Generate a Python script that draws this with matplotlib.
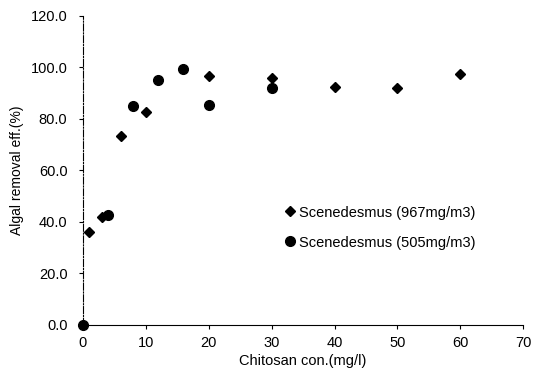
import matplotlib.pyplot as plt

# data
x_967 = [1, 3, 6, 10, 20, 30, 40, 50, 60]
y_967 = [36.0, 42.0, 73.5, 82.5, 96.5, 96.0, 92.5, 92.0, 97.5]
x_505 = [0, 4, 8, 12, 16, 20, 30]
y_505 = [0.0, 42.5, 85.0, 95.0, 99.5, 85.5, 92.0]
xticks = [0, 10, 20, 30, 40, 50, 60, 70]
yticks = [0, 20, 40, 60, 80, 100, 120]

plt.rcParams['font.family'] = ['Liberation Sans', 'DejaVu Sans']

fig = plt.figure(figsize=(5.34, 3.70), dpi=100)
ax = fig.add_axes([0.155, 0.122, 0.825, 0.835])

ax.plot(x_967, y_967, linestyle='none', marker='D', markersize=5, color='black',
        label='Scenedesmus (967mg/m3)', clip_on=False)
ax.plot(x_505, y_505, linestyle='none', marker='o', markersize=7, color='black',
        label='Scenedesmus (505mg/m3)', clip_on=False)

ax.set_xlim(0, 70)
ax.set_ylim(0, 120)
ax.set_xticks(xticks)
ax.set_yticks(yticks)
ax.set_yticklabels(['%.1f' % v for v in yticks])
ax.tick_params(labelsize=10.5, length=3, width=0.8, direction='out')
ax.tick_params(axis='y', pad=8)
ax.tick_params(axis='x', pad=5)

ax.spines['top'].set_visible(False)
ax.spines['right'].set_visible(False)
ax.spines['left'].set_linestyle('-.')
ax.spines['left'].set_linewidth(0.8)
ax.spines['bottom'].set_linewidth(0.8)

ax.set_xlabel('Chitosan con.(mg/l)', fontsize=10.5, labelpad=3)
ax.set_ylabel('Algal removal eff.(%)', fontsize=10, labelpad=5)

ax.legend(loc='center left', bbox_to_anchor=(0.425, 0.315), frameon=False,
          fontsize=10.5, handletextpad=0.1, handlelength=1.0, labelspacing=1.1)

plt.savefig('out.png', dpi=100)
